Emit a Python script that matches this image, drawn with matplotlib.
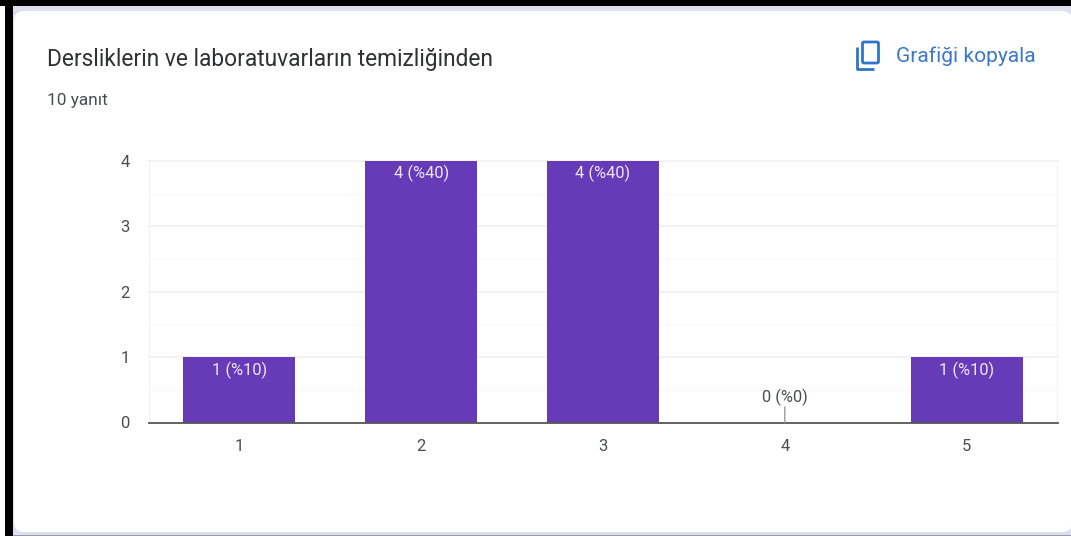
import matplotlib
matplotlib.use("Agg")
import matplotlib.pyplot as plt
from matplotlib.patches import FancyBboxPatch, Rectangle
from matplotlib.lines import Line2D

categories = [1, 2, 3, 4, 5]
values = [1, 4, 4, 0, 1]
value_labels = ["1 (%10)", "4 (%40)", "4 (%40)", "0 (%0)", "1 (%10)"]
y_ticks = [0, 1, 2, 3, 4]
y_minor = [0.5, 1.5, 2.5, 3.5]
title = "Dersliklerin ve laboratuvarların temizliğinden"
subtitle = "10 yanıt"
action = "Grafiği kopyala"

W, H = 1071, 536
PURPLE = "#673AB7"
TEXT = "#4A4D50"
BLUE = "#3B78C8"
LAV = "#DEDEEF"
plt.rcParams["font.family"] = ["Roboto", "DejaVu Sans"]

fig = plt.figure(figsize=(W / 100, H / 100), dpi=100, facecolor="white")

# Screenshot frame and card in pixel coordinates
bg = fig.add_axes([0, 0, 1, 1], zorder=0)
bg.set_xlim(0, W)
bg.set_ylim(H, 0)
bg.axis("off")
bg.add_patch(Rectangle((0, 0), W, 6, fc="black", ec="none"))
bg.add_patch(Rectangle((5, 0), 8, H, fc="black", ec="none"))
bg.add_patch(Rectangle((13, 6), W - 13, H - 6, fc=LAV, ec="none"))
bg.add_patch(Rectangle((13, 535), W - 13, 1, fc="#9A9AA6", ec="none"))
bg.add_patch(FancyBboxPatch((14, 11), W - 14 + 1, 532 - 11,
                            boxstyle="round,pad=0,rounding_size=10",
                            fc="white", ec="none"))
bg.text(47, 59.5, title, fontsize=16.35, color="#303134", va="center", ha="left")
bg.text(47, 100, subtitle, fontsize=12.4, color=TEXT, va="center", ha="left")
bg.text(896, 56, action, fontsize=15.1, color=BLUE, va="center", ha="left")

# Copy icon
bg.add_patch(FancyBboxPatch((862.5, 42), 16, 21, boxstyle="round,pad=0,rounding_size=1.5",
                            fc="none", ec="#2F74C9", lw=2))
bg.add_line(Line2D([857, 857, 874], [47, 69, 69], color="#2F74C9", lw=2,
                   solid_joinstyle="round", solid_capstyle="butt"))

# Chart
ax = fig.add_axes([148.5 / W, 1 - 422.5 / H, (1057.5 - 148.5) / W, (422.5 - 161) / H],
                  zorder=1)
ax.patch.set_alpha(0)
ax.bar(categories, values, width=0.615, color=PURPLE, zorder=3)
ax.set_xlim(0.5, 5.5)
ax.set_ylim(0, 4)

for y in y_minor:
    ax.axhline(y, color="#F9F9F9", lw=1, zorder=1)
for y in y_ticks[1:]:
    ax.axhline(y, color="#F0F0F0", lw=1.2, zorder=1, clip_on=False)
ax.axvline(0.5, color="#F0F0F0", lw=1.2, zorder=1)
ax.axvline(5.5, color="#F0F0F0", lw=1.2, zorder=1)

for s in ax.spines.values():
    s.set_visible(False)
ax.spines["bottom"].set_visible(True)
ax.spines["bottom"].set_color("#555555")
ax.spines["bottom"].set_linewidth(1.3)
ax.spines["bottom"].set_zorder(4)

ax.set_xticks(categories)
ax.set_yticks(y_ticks)
ax.tick_params(axis="both", length=0, labelsize=12, labelcolor=TEXT)
ax.tick_params(axis="x", pad=12)
ax.tick_params(axis="y", pad=13.5)

for c, v, lab in zip(categories, values, value_labels):
    if v > 0:
        ax.annotate(lab, (c, v), xytext=(0, -3), textcoords="offset points",
                    ha="center", va="top", fontsize=11.8, color="#EDE7F6", zorder=5,
                    annotation_clip=False)
    else:
        ax.annotate(lab, (c, v), xytext=(0, 12), textcoords="offset points",
                    ha="center", va="bottom", fontsize=11.8, color=TEXT, zorder=5,
                    arrowprops=dict(arrowstyle="-", color="#999999", lw=1,
                                    shrinkA=7, shrinkB=0, patchA=None))

fig.savefig("out.png", dpi=100, facecolor="white")
